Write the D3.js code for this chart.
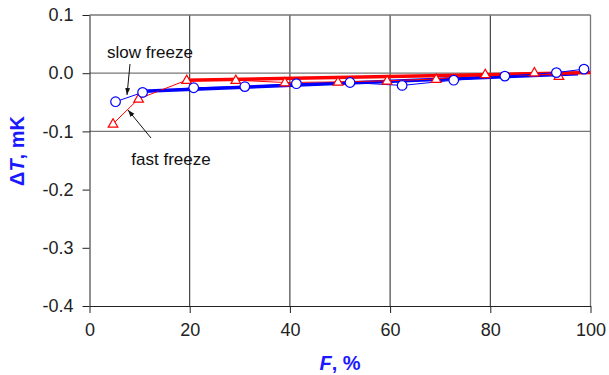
<!DOCTYPE html>
<html>
<head>
<meta charset="utf-8">
<script src="https://cdn.jsdelivr.net/npm/d3@7"></script>
<style>
  body { margin: 0; background: #fff; }
  svg { display: block; font-family: "Liberation Sans", Arial, sans-serif; }
</style>
</head>
<body>
<svg id="chart"></svg>
<script>
// slow freeze (blue circles)
var slowF  = [5.2, 10.6, 20.8, 31.0, 41.3, 52.0, 62.4, 72.7, 82.9, 93.2, 98.7];
var slowDT = [-0.049, -0.033, -0.025, -0.023, -0.018, -0.016, -0.021, -0.012, -0.005, 0.001, 0.007];
// fast freeze (red triangles)
var fastF  = [4.7, 9.8, 19.4, 29.2, 39.0, 49.6, 59.4, 69.2, 79.0, 88.8, 93.7];
var fastDT = [-0.087, -0.044, -0.012, -0.012, -0.016, -0.015, -0.013, -0.010, -0.002, 0.001, -0.005];
// linear fits
var slowFitF = [10.6, 97.5], slowFitDT = [-0.031, -0.001];
var fastFitF = [19.4, 100],  fastFitDT = [-0.012, 0.001];

var xTicks = [0, 20, 40, 60, 80, 100];
var yTicks = [0.1, 0.0, -0.1, -0.2, -0.3, -0.4];

var W = 609, H = 375;
var svg = d3.select("#chart").attr("width", W).attr("height", H);

var x = d3.scaleLinear().domain([0, 100]).range([89.5, 590.5]);
var y = d3.scaleLinear().domain([-0.4, 0.1]).range([306, 15]);

var grid = svg.append("g");
// vertical gridlines
grid.selectAll("line.v").data([20, 40, 60, 80]).enter().append("line")
  .attr("x1", d => x(d)).attr("x2", d => x(d))
  .attr("y1", y(0.1)).attr("y2", y(-0.4))
  .attr("stroke", "#222").attr("stroke-width", 1);
// horizontal gridlines
grid.selectAll("line.h").data([0.1, 0.0, -0.1]).enter().append("line")
  .attr("x1", x(0)).attr("x2", x(100))
  .attr("y1", d => y(d)).attr("y2", d => y(d))
  .attr("stroke", "#777").attr("stroke-width", 1.3);
// right border
grid.append("line")
  .attr("x1", x(100)).attr("x2", x(100))
  .attr("y1", y(0.1)).attr("y2", y(-0.4))
  .attr("stroke", "#777").attr("stroke-width", 1.3);

// axes
var xAxis = d3.axisBottom(x).tickValues(xTicks).tickSize(7).tickSizeOuter(0)
  .tickPadding(10).tickFormat(d3.format("d"));
var yAxis = d3.axisLeft(y).tickValues(yTicks).tickSize(7).tickSizeOuter(0)
  .tickPadding(9).tickFormat(d => d.toFixed(1).replace("-0.0", "0.0"));

var gx = svg.append("g").attr("transform", "translate(0," + y(-0.4) + ")").call(xAxis);
var gy = svg.append("g").attr("transform", "translate(" + x(0) + ",0)").call(yAxis);
[gx, gy].forEach(function(g) {
  g.select(".domain").attr("stroke", "#222").attr("stroke-width", 1);
  g.selectAll(".tick line").attr("stroke", "#222");
  g.selectAll(".tick text").attr("fill", "#222").style("font-size", "18px");
});

// series
var line = d3.line().x(d => x(d[0])).y(d => y(d[1]));
var slow = d3.zip(slowF, slowDT), fast = d3.zip(fastF, fastDT);

svg.append("path").datum(d3.zip(slowFitF, slowFitDT)).attr("d", line)
  .attr("fill", "none").attr("stroke", "#0000ff").attr("stroke-width", 3.5);
svg.append("path").datum(d3.zip(fastFitF, fastFitDT)).attr("d", line)
  .attr("fill", "none").attr("stroke", "#ff0000").attr("stroke-width", 3.5);

svg.append("path").datum(fast).attr("d", line)
  .attr("fill", "none").attr("stroke", "#ff0000").attr("stroke-width", 1);
svg.append("path").datum(slow).attr("d", line)
  .attr("fill", "none").attr("stroke", "#0000ff").attr("stroke-width", 1);

var tri = d3.symbol().type(d3.symbolTriangle).size(40);
svg.selectAll("path.tri").data(fast).enter().append("path")
  .attr("transform", d => "translate(" + x(d[0]) + "," + (y(d[1]) + 0.5) + ")")
  .attr("d", tri).attr("fill", "#fff").attr("stroke", "#ff0000").attr("stroke-width", 1.2);

svg.selectAll("circle.pt").data(slow).enter().append("circle")
  .attr("cx", d => x(d[0])).attr("cy", d => y(d[1])).attr("r", 4.8)
  .attr("fill", "#fff").attr("stroke", "#0000ff").attr("stroke-width", 1.2);

// annotations
svg.append("defs").append("marker")
  .attr("id", "arr").attr("viewBox", "0 0 10 10").attr("refX", 10).attr("refY", 5)
  .attr("markerWidth", 7).attr("markerHeight", 7).attr("orient", "auto")
  .append("path").attr("d", "M0,1.5 L10,5 L0,8.5 Z").attr("fill", "#111");

svg.append("text").attr("x", 150).attr("y", 58).attr("text-anchor", "middle")
  .style("font-size", "17px").attr("fill", "#111").text("slow freeze");
svg.append("line").attr("x1", 130).attr("y1", 64).attr("x2", 127).attr("y2", 95)
  .attr("stroke", "#111").attr("stroke-width", 1).attr("marker-end", "url(#arr)");

svg.append("text").attr("x", 171).attr("y", 165).attr("text-anchor", "middle")
  .style("font-size", "17px").attr("fill", "#111").text("fast freeze");
svg.append("line").attr("x1", 151).attr("y1", 138).attr("x2", 128).attr("y2", 110)
  .attr("stroke", "#111").attr("stroke-width", 1).attr("marker-end", "url(#arr)");

// axis titles
var yt = svg.append("text").attr("transform", "translate(24,151) rotate(-90)")
  .attr("text-anchor", "middle").attr("fill", "#1a1aff")
  .style("font-size", "20px").style("font-weight", "bold");
yt.append("tspan").text("\u0394");
yt.append("tspan").style("font-style", "italic").text("T");
yt.append("tspan").text(", mK");

var xt = svg.append("text").attr("x", 340).attr("y", 370)
  .attr("text-anchor", "middle").attr("fill", "#1a1aff")
  .style("font-size", "20px").style("font-weight", "bold");
xt.append("tspan").style("font-style", "italic").text("F");
xt.append("tspan").text(", %");
</script>
</body>
</html>
